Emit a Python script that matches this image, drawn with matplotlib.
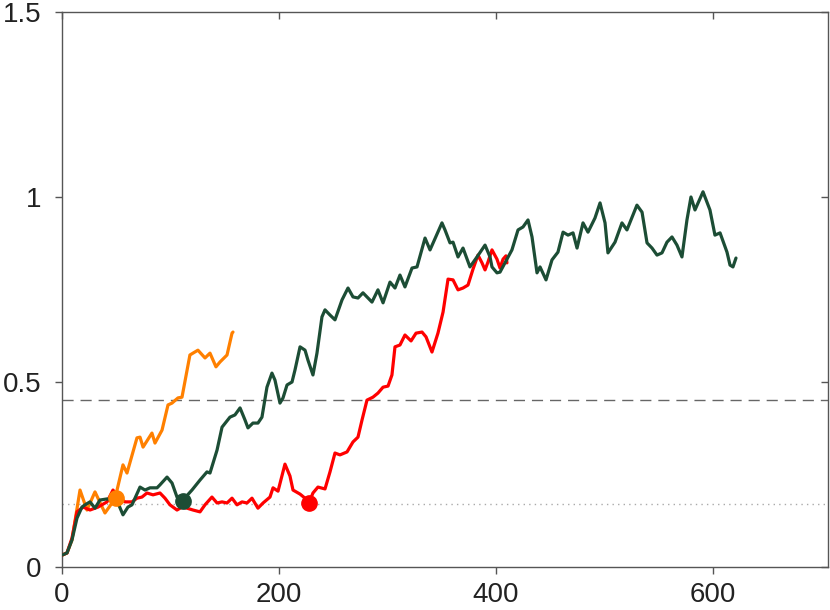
import matplotlib
matplotlib.use("Agg")
import matplotlib.pyplot as plt

plt.rcParams['font.family'] = ['Liberation Sans', 'DejaVu Sans']

# ---- data ----
orange_x = [0, 4.6, 9.2, 12.9, 16.6, 23.0, 30.4, 39.6, 48.8, 56.2, 59.9, 69.1, 71.9, 74.7,
            82.9, 85.7, 92.2, 97.7, 101.4, 106.9, 110.6, 117.9, 120.7, 125.3, 131.8, 136.4,
            141.9, 145.6, 152.1, 156.7, 157.6]
orange_y = [0.032, 0.038, 0.073, 0.141, 0.208, 0.154, 0.203, 0.146, 0.184, 0.276, 0.254,
            0.349, 0.351, 0.324, 0.362, 0.335, 0.370, 0.438, 0.443, 0.457, 0.459, 0.573,
            0.578, 0.586, 0.565, 0.578, 0.541, 0.554, 0.573, 0.632, 0.635]

green_x = [0, 4.6, 9.2, 13.8, 18.4, 21.2, 25.8, 30.4, 35.0, 41.5, 46.1, 51.6, 56.2, 60.8,
           64.5, 71.9, 76.5, 81.1, 87.6, 90.3, 96.8, 101.4, 106.0, 111.5, 119.8, 127.2,
           133.6, 136.4, 142.9, 147.5, 154.8, 159.4, 164.1, 168.7, 171.4, 176.0, 180.6,
           184.3, 188.9, 193.5, 196.3, 200.9, 203.7, 207.4, 212.0, 214.7, 219.4, 224.0,
           226.7, 231.3, 235.0, 239.6, 242.4, 247.0, 251.6, 258.1, 263.6, 268.2, 272.8,
           277.4, 285.7, 291.2, 295.9, 302.3, 306.9, 311.5, 316.1, 322.6, 327.2, 334.6,
           339.2, 350.2, 353.0, 357.6, 360.4, 365.0, 369.6, 376.0, 382.5, 389.9, 394.5,
           396.3, 400.9, 403.7, 408.3, 414.7, 420.3, 424.9, 429.5, 433.2, 437.8, 440.6,
           446.1, 451.6, 457.1, 461.8, 466.4, 471.0, 474.7, 480.2, 484.8, 491.2, 495.9,
           500.5, 503.2, 509.7, 516.1, 520.7, 529.9, 534.6, 539.2, 543.8, 548.4, 553.0,
           557.6, 562.2, 566.8, 571.4, 576.0, 579.7, 583.4, 590.8, 597.2, 601.8, 606.5,
           612.9, 615.7, 618.4, 621.2]
green_y = [0.032, 0.038, 0.073, 0.132, 0.162, 0.168, 0.176, 0.159, 0.181, 0.184, 0.181,
           0.173, 0.141, 0.162, 0.168, 0.216, 0.208, 0.214, 0.214, 0.222, 0.243, 0.227,
           0.189, 0.181, 0.208, 0.235, 0.257, 0.254, 0.316, 0.378, 0.405, 0.411, 0.430,
           0.397, 0.376, 0.389, 0.389, 0.405, 0.486, 0.524, 0.505, 0.443, 0.457, 0.492,
           0.500, 0.532, 0.595, 0.586, 0.559, 0.519, 0.578, 0.676, 0.695, 0.681, 0.668,
           0.722, 0.754, 0.730, 0.727, 0.741, 0.716, 0.749, 0.714, 0.770, 0.754, 0.789,
           0.757, 0.808, 0.811, 0.889, 0.857, 0.930, 0.911, 0.876, 0.878, 0.838, 0.862,
           0.811, 0.838, 0.870, 0.838, 0.811, 0.795, 0.797, 0.822, 0.857, 0.911, 0.919,
           0.938, 0.892, 0.795, 0.811, 0.776, 0.830, 0.851, 0.905, 0.897, 0.903, 0.862,
           0.930, 0.905, 0.943, 0.984, 0.930, 0.849, 0.878, 0.930, 0.911, 0.978, 0.959,
           0.876, 0.862, 0.843, 0.849, 0.878, 0.892, 0.870, 0.838, 0.938, 1.000, 0.965,
           1.014, 0.965, 0.897, 0.903, 0.851, 0.816, 0.811, 0.835]

red_x = [0, 4.6, 9.2, 13.8, 19.4, 25.8, 33.2, 41.5, 47.0, 51.6, 58.1, 64.5, 69.1, 73.7,
         78.3, 83.9, 90.3, 94.9, 99.5, 106.0, 110.6, 115.2, 120.7, 127.2, 131.8, 138.2,
         142.9, 147.5, 152.1, 156.7, 161.3, 165.9, 170.5, 175.1, 180.6, 185.3, 191.7,
         194.5, 199.1, 205.5, 210.1, 212.9, 219.4, 224.0, 227.6, 231.3, 235.9, 242.4,
         247.0, 251.6, 256.2, 262.7, 268.2, 272.8, 276.5, 281.1, 286.6, 291.2, 295.9,
         300.5, 304.1, 306.9, 311.5, 316.1, 321.7, 326.3, 331.8, 335.5, 341.0, 346.5,
         351.2, 355.8, 360.4, 365.0, 369.6, 374.2, 378.8, 383.4, 387.1, 389.9, 392.6,
         396.3, 400.9, 403.7, 406.5, 409.2, 410.1]
red_y = [0.032, 0.038, 0.078, 0.149, 0.162, 0.154, 0.162, 0.176, 0.208, 0.189, 0.176,
         0.176, 0.186, 0.189, 0.200, 0.195, 0.200, 0.186, 0.168, 0.154, 0.162, 0.159,
         0.154, 0.149, 0.168, 0.189, 0.173, 0.176, 0.173, 0.186, 0.168, 0.176, 0.173,
         0.186, 0.159, 0.173, 0.189, 0.214, 0.205, 0.278, 0.246, 0.208, 0.197, 0.186,
         0.173, 0.200, 0.216, 0.211, 0.257, 0.308, 0.303, 0.311, 0.338, 0.351, 0.397,
         0.451, 0.459, 0.470, 0.486, 0.489, 0.519, 0.595, 0.600, 0.627, 0.611, 0.632,
         0.635, 0.622, 0.581, 0.632, 0.689, 0.778, 0.776, 0.749, 0.754, 0.762, 0.805,
         0.843, 0.822, 0.803, 0.824, 0.857, 0.832, 0.808, 0.832, 0.841, 0.822]

marker_x = [50, 111.5, 227.6]
marker_y = [0.186, 0.178, 0.173]
dashed_level = 0.451
dotted_level = 0.170

x_ticks = [0, 200, 400, 600]
y_ticks = [0, 0.5, 1, 1.5]
y_tick_labels = ['0', '0.5', '1', '1.5']

c_orange = '#ff8000'
c_green = '#1c4d35'
c_red = '#ff0000'

# ---- figure ----
fig = plt.figure(figsize=(8.3, 6.1), dpi=100)
ax = fig.add_axes([62 / 830, 43 / 610, 766 / 830, 555 / 610])

ax.axhline(dashed_level, color='#666666', lw=1.0, ls=(0, (8, 5)), zorder=1)
ax.axhline(dotted_level, color='#aaaaaa', lw=1.0, ls=(0, (1, 3)), zorder=1)

kw = dict(lw=2.3, solid_joinstyle='round', solid_capstyle='round', zorder=3)
ax.plot(orange_x, orange_y, color=c_orange, **kw)
ax.plot(red_x, red_y, color=c_red, **kw)
ax.plot(green_x, green_y, color=c_green, **kw)

for mx, my, c in zip(marker_x, marker_y, [c_orange, c_green, c_red]):
    ax.plot([mx], [my], 'o', color=c, ms=11, zorder=4)

ax.set_xlim(0, 706)
ax.set_ylim(0, 1.5)
ax.set_xticks(x_ticks)
ax.set_xticklabels([str(t) for t in x_ticks])
ax.set_yticks(y_ticks)
ax.set_yticklabels(y_tick_labels)

for s in ax.spines.values():
    s.set_color('#555555')
    s.set_linewidth(1.0)

ax.tick_params(axis='both', which='major', direction='out', length=5, width=1,
               color='#555555', labelsize=20, labelcolor='#222222')
ax.tick_params(axis='y', pad=10)
ax.tick_params(axis='x', pad=6)
ax.tick_params(right=True, top=True, labelright=False, labeltop=False)
for t in ax.yaxis.get_major_ticks():
    t.tick2line.set_marker(matplotlib.lines.TICKLEFT)
for t in ax.xaxis.get_major_ticks():
    t.tick2line.set_marker(matplotlib.lines.TICKDOWN)

fig.savefig('out.png', dpi=100)
